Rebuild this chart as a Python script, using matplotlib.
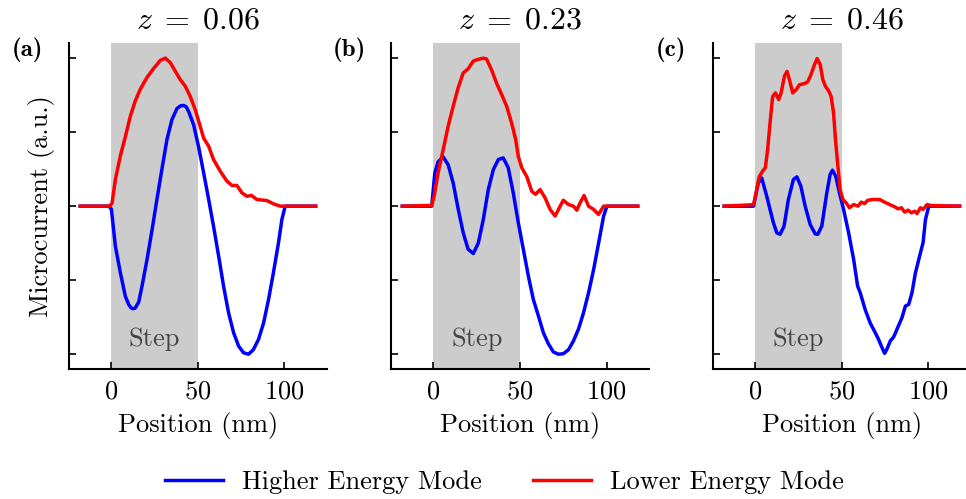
import numpy as np
import matplotlib
matplotlib.use("Agg")
import matplotlib.pyplot as plt

plt.rcParams["font.family"] = ["cmr10", "DejaVu Serif"]
plt.rcParams["mathtext.fontset"] = "cm"
plt.rcParams["axes.unicode_minus"] = False
plt.rcParams["axes.formatter.use_mathtext"] = True
plt.rcParams["lines.solid_joinstyle"] = "round"

# ---- data (position in nm, normalised microcurrent) ----
# panel (a) z = 0.06
xa_hi = [-18, -1.5, 0, 2.3, 5.2, 8.1, 10, 11.3, 12.5, 13.8, 15.8, 17.7, 20.6, 23.5, 26.3, 29.2,
         32.1, 35, 37.9, 40, 41.7, 43.2, 44.6, 47.5, 50.4, 53.3, 56.2, 59, 62, 64.8, 67.7, 70.6,
         73.5, 76.3, 79.2, 82, 85, 87.9, 90.8, 93.6, 96.5, 98.5, 100.4, 118]
ya_hi = [0, 0, -0.02, -0.27, -0.45, -0.61, -0.664, -0.686, -0.693, -0.688, -0.647, -0.54, -0.36,
         -0.16, 0.045, 0.25, 0.45, 0.585, 0.66, 0.678, 0.68, 0.672, 0.64, 0.55, 0.40, 0.225,
         0.045, -0.135, -0.34, -0.54, -0.72, -0.855, -0.945, -0.99, -1.0, -0.97, -0.9, -0.79,
         -0.63, -0.45, -0.25, -0.09, 0, 0]
xa_lo = [-18, -1, 0.4, 2.3, 5.2, 8.1, 11, 13.8, 16.7, 20.6, 24.4, 28.3, 31.2, 34, 37, 39.8, 42.7,
         45.6, 48.5, 51.3, 53.3, 56.2, 59, 62.9, 66.7, 69.6, 72.5, 75.4, 78.3, 81, 84, 89.8,
         93.6, 97.5, 118]
ya_lo = [0, 0, 0.02, 0.18, 0.34, 0.47, 0.61, 0.71, 0.79, 0.87, 0.93, 0.985, 1.0, 0.97, 0.91,
         0.855, 0.81, 0.74, 0.65, 0.54, 0.46, 0.405, 0.315, 0.236, 0.17, 0.14, 0.14, 0.09,
         0.067, 0.072, 0.045, 0.038, 0.016, 0, 0]

# panel (b) z = 0.23
xb_hi = [-18, -1, 0.8, 2.7, 5.6, 8.5, 11.4, 14.3, 17.2, 20, 23, 25.9, 28.8, 31.7, 34.6, 37.5,
         40.3, 43.2, 46.1, 49, 51.9, 54.8, 57.7, 60.6, 63.5, 66.4, 69.3, 72.2, 75, 78, 80.9,
         83.8, 86.7, 89.6, 92.5, 95.4, 98.3, 100.2, 118]
yb_hi = [0, 0, 0.225, 0.30, 0.333, 0.28, 0.157, -0.02, -0.18, -0.29, -0.32, -0.25, -0.09, 0.112,
         0.247, 0.315, 0.326, 0.26, 0.09, -0.11, -0.29, -0.47, -0.63, -0.74, -0.855, -0.93,
         -0.985, -1.0, -0.997, -0.97, -0.91, -0.83, -0.72, -0.585, -0.43, -0.25, -0.067, 0, 0]
xb_lo = [-18, -1, 0.4, 2.7, 5.6, 8.5, 11.4, 14.3, 17.2, 20, 23, 25.5, 28.8, 30.7, 33.6, 36.5,
         39.4, 42.3, 45.2, 47.5, 49, 51, 53.9, 56.8, 59, 61.6, 64.5, 67.4, 70.3, 73.2, 75, 78,
         80.9, 82.8, 84.7, 87, 89.6, 92.5, 95.4, 98.3, 118]
yb_lo = [0, 0.005, 0.067, 0.225, 0.38, 0.54, 0.675, 0.80, 0.90, 0.927, 0.98, 0.99, 1.0, 0.994,
         0.92, 0.83, 0.754, 0.675, 0.56, 0.45, 0.337, 0.26, 0.2, 0.1, 0.08, 0.112, 0.056,
         -0.022, -0.067, 0, 0.04, 0.011, 0, -0.027, 0.022, 0.072, 0, -0.022, -0.056, 0, 0]

# panel (c) z = 0.46
xc_hi = [-18, -1, 1.7, 3.7, 6.6, 8.5, 10.4, 12.4, 14.3, 16.6, 19.1, 22, 24, 26.3, 28.8, 31.7,
         34.6, 36.1, 38.4, 41.3, 43.2, 44.6, 46.5, 48.6, 51, 53.9, 56.8, 59.1, 60.6, 63.5,
         66.4, 69.3, 71.2, 73.2, 74.7, 76, 78, 79.9, 81.9, 84.7, 86.7, 88.6, 90.5, 92.5, 95.4,
         96.9, 98.3, 100.2, 118]
yc_hi = [0, 0, 0.157, 0.19, 0.067, -0.022, -0.11, -0.18, -0.19, -0.135, 0.045, 0.18, 0.198,
         0.135, 0, -0.124, -0.187, -0.19, -0.135, 0.09, 0.214, 0.243, 0.2, 0.09, -0.022, -0.18,
         -0.36, -0.54, -0.585, -0.70, -0.79, -0.855, -0.9, -0.956, -0.994, -0.967, -0.91,
         -0.884, -0.83, -0.754, -0.675, -0.664, -0.585, -0.45, -0.315, -0.247, -0.09, 0, 0]
xc_lo = [-18, -1, 0.4, 2.3, 4.2, 5.8, 7.1, 8.5, 10, 11.6, 13.5, 14.9, 16.8, 18.3, 19.7, 21.6,
         23.6, 25.5, 28.4, 30.3, 32.2, 34.2, 35.7, 37.5, 39, 40.5, 42.5, 43.8, 45.2, 46.3, 47.7,
         49, 50.6, 52.5, 54.4, 56.8, 59.3, 61.2, 63.1, 65, 68, 71.8, 74.7, 77.6, 80.5, 82.4,
         84.4, 86.3, 88.2, 90.2, 92.1, 93.4, 95.4, 96.9, 99.2, 101.7, 118]
yc_lo = [0, 0.01, 0.09, 0.2, 0.236, 0.26, 0.38, 0.56, 0.74, 0.765, 0.72, 0.765, 0.877, 0.91,
         0.855, 0.765, 0.787, 0.82, 0.828, 0.84, 0.89, 0.956, 0.997, 0.956, 0.855, 0.81, 0.776,
         0.74, 0.63, 0.45, 0.27, 0.112, 0.045, 0.022, -0.011, 0.011, 0, 0.027, 0.018, 0.04,
         0.045, 0.045, 0.027, 0.011, -0.004, -0.018, -0.011, -0.04, -0.027, -0.045, -0.034,
         -0.05, -0.011, -0.022, 0.011, 0.004, 0]

panels = [
    ("(a)", r"$z\;=\;0.06$", xa_hi, ya_hi, xa_lo, ya_lo),
    ("(b)", r"$z\;=\;0.23$", xb_hi, yb_hi, xb_lo, yb_lo),
    ("(c)", r"$z\;=\;0.46$", xc_hi, yc_hi, xc_lo, yc_lo),
]
step_region = (0, 50)
xticks = [0, 50, 100]
yticks = [-1, -0.5, 0, 0.5, 1]

fig = plt.figure(figsize=(9.66, 4.99), dpi=100)
lefts = [0.0714, 0.4048, 0.738]
fs = 19

for i, (tag, title, xh, yh, xl, yl) in enumerate(panels):
    ax = fig.add_axes([lefts[i], 0.2605, 0.267, 0.6527])
    ax.axvspan(*step_region, color="#cccccc", lw=0, zorder=0)
    lh, = ax.plot(xh, yh, color="#0000ff", lw=2.5, label="Higher Energy Mode")
    ll, = ax.plot(xl, yl, color="#ff0000", lw=2.5, label="Lower Energy Mode")
    ax.text(25, -0.9, "Step", ha="center", va="center", fontsize=fs, color="#444444")
    ax.set_xlim(-24.5, 124.5)
    ax.set_ylim(-1.1, 1.1)
    ax.set_xticks(xticks)
    ax.set_yticks(yticks)
    ax.tick_params(direction="in", length=5, width=1.2, labelsize=fs, pad=8, labelleft=False)
    for s in ["top", "right"]:
        ax.spines[s].set_visible(False)
    for s in ["left", "bottom"]:
        ax.spines[s].set_linewidth(1.5)
    ax.set_xlabel("Position (nm)", fontsize=fs, labelpad=6)
    ax.set_title(title, fontsize=23, pad=11)
    fig.text(lefts[i] - 0.043, 0.900, tag, fontsize=18, family="cmb10", ha="center", va="center")
    if i == 0:
        ax.set_ylabel("Microcurrent (a.u.)", fontsize=fs)
        ax.yaxis.set_label_coords(-0.055, 0.5)

fig.legend(handles=[lh, ll], loc="center", bbox_to_anchor=(0.522, 0.034), ncol=2,
           frameon=False, fontsize=fs, handlelength=2.2, handletextpad=0.72, columnspacing=1.93)

fig.savefig("out.png", dpi=100)
